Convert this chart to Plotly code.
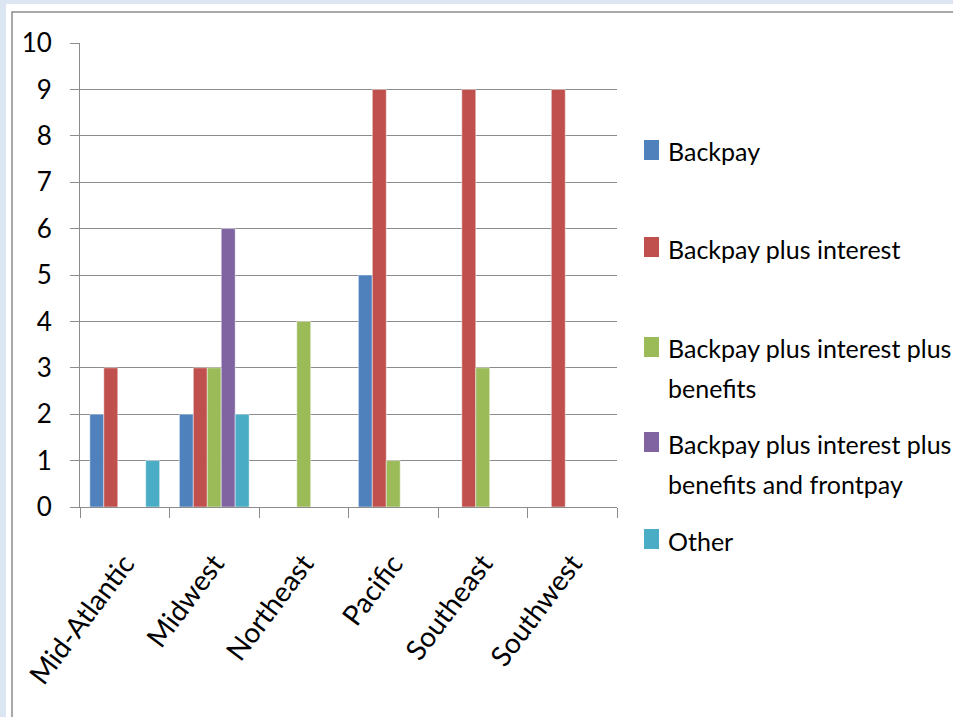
import plotly.graph_objects as go

regions = ["Mid-Atlantic", "Midwest", "Northeast", "Pacific", "Southeast", "Southwest"]
series_names = [
    "Backpay",
    "Backpay plus interest",
    "Backpay plus interest plus benefits",
    "Backpay plus interest plus benefits and frontpay",
    "Other",
]
legend_lines = [
    ["Backpay"],
    ["Backpay plus interest"],
    ["Backpay plus interest plus", "benefits"],
    ["Backpay plus interest plus", "benefits and frontpay"],
    ["Other"],
]
backpay = [2, 2, 0, 5, 0, 0]
backpay_interest = [3, 3, 0, 9, 9, 9]
backpay_interest_benefits = [0, 3, 4, 1, 3, 0]
backpay_interest_benefits_frontpay = [0, 6, 0, 0, 0, 0]
other = [1, 2, 0, 0, 0, 0]
y_ticks = list(range(0, 11))

colors = ["#4F81BD", "#C0504D", "#9BBB59", "#8064A2", "#4BACC6"]
values = [backpay, backpay_interest, backpay_interest_benefits,
          backpay_interest_benefits_frontpay, other]

FONT = "Lato, Roboto, sans-serif"
FS = 25

fig = go.Figure()
for name, vals, col in zip(series_names, values, colors):
    fig.add_trace(go.Bar(
        x=regions, y=vals, name=name,
        marker=dict(color=col, line=dict(color="rgba(255,255,255,0.6)", width=0.8)),
    ))

W, H = 953, 717
L, R, T, B = 80, 336, 43, 210
pw, ph = W - L - R, H - T - B

def px_x(x):
    return (x - L) / pw

def px_y(y):
    return 1 - (y - T) / ph

shapes = [
    dict(type="rect", xref="paper", yref="paper", layer="below",
         x0=px_x(6), x1=px_x(W + 20), y0=px_y(H + 20), y1=px_y(4),
         fillcolor="white", line=dict(width=0)),
    dict(type="rect", xref="paper", yref="paper", layer="below",
         x0=px_x(12), x1=px_x(W + 20), y0=px_y(H + 20), y1=px_y(12),
         fillcolor="white", line=dict(color="#8C8C8C", width=1.5)),
]
annotations = []

# legend (custom, to match the tall marker boxes and line spacing)
marker_tops = [140, 237, 337, 432, 529]
first_baselines = [159, 257, 356, 452, 549]
for col, lines, mt, bl in zip(colors, legend_lines, marker_tops, first_baselines):
    shapes.append(dict(type="rect", xref="paper", yref="paper",
                       x0=px_x(644), x1=px_x(659), y0=px_y(mt + 20), y1=px_y(mt),
                       fillcolor=col, line=dict(width=0)))
    for k, line in enumerate(lines):
        annotations.append(dict(
            xref="paper", yref="paper", x=px_x(666), y=px_y(bl + 40 * k - 8),
            xanchor="left", yanchor="middle", text=line, showarrow=False,
            font=dict(family=FONT, size=FS, color="black"),
        ))

fig.update_layout(
    width=W, height=H,
    margin=dict(l=L, r=R, t=T, b=B, pad=0),
    paper_bgcolor="#DCE6F2",
    plot_bgcolor="white",
    barmode="group",
    bargap=0.22,
    bargroupgap=0,
    font=dict(family=FONT, size=FS, color="black"),
    shapes=shapes,
    annotations=annotations,
    showlegend=False,
)
fig.update_xaxes(
    type="category", tickson="boundaries", ticks="outside", ticklen=10,
    tickcolor="#8C8C8C", showline=True, linecolor="#8C8C8C", linewidth=1,
    showgrid=False, tickangle=-53, tickfont=dict(family=FONT, size=28),
    automargin=False, ticklabelstandoff=28,
)
fig.update_yaxes(
    range=[0, 10], tickvals=y_ticks, ticks="outside", ticklen=9,
    tickcolor="#8C8C8C", showline=True, linecolor="#8C8C8C", linewidth=1,
    showgrid=True, gridcolor="#8C8C8C", gridwidth=1, zeroline=False,
    ticklabelstandoff=13, tickfont=dict(family=FONT, size=26),
    automargin=False,
)

fig.write_html(
    "out.html",
    config={"displayModeBar": False},
    post_script="document.body.style.margin='0';document.body.style.overflow='hidden';",
)
